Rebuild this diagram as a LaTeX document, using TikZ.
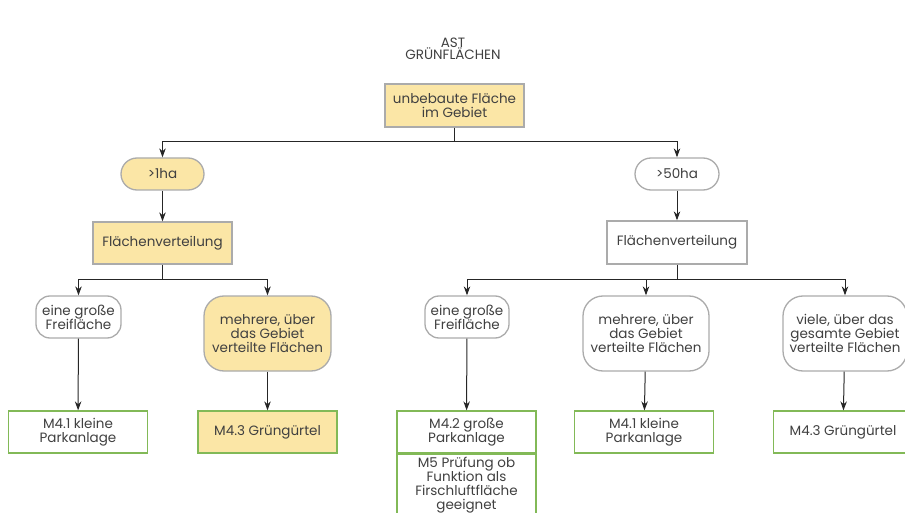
\documentclass[tikz,border=0pt]{standalone}
\usepackage{fontspec}
\setmainfont{Poppins}
\usetikzlibrary{arrows.meta}
\definecolor{gelb}{HTML}{FBE6A6}
\definecolor{rand}{HTML}{ABABAB}
\definecolor{gruen}{HTML}{82B957}
\definecolor{schrift}{HTML}{404040}
\tikzset{
  box/.style={draw=rand, line width=1.3pt, align=center, inner sep=0pt, text=schrift, font=\fontsize{13.5}{14}\selectfont},
  frage/.style={box, rounded corners=14pt, minimum height=32pt},
  kapsel/.style={box, rounded corners=16pt, minimum height=32pt},
  wahl/.style={box, rounded corners=20pt},
  mass/.style={box, draw=gruen, minimum width=139pt, minimum height=42pt},
  pfeil/.style={-{Stealth[length=9pt,width=6.5pt]}, line width=1pt, black!85},
  linie/.style={line width=1pt, black!85}
}
\begin{document}
\begin{tikzpicture}[x=1pt,y=-1pt]
\useasboundingbox (0,0) rectangle (905,513);
% titel
\node[text=schrift, align=center, font=\fontsize{13.5}{12.5}\selectfont] (titel) at (453,49) {AST\\GRÜNFLÄCHEN};

% oberste ebene
\node[box, fill=gelb, minimum width=139pt, minimum height=43pt] (flaeche) at (454.5,105.5) {unbebaute Fläche\\im Gebiet};
\coordinate (gabel) at (454.5,142);

% linker ast
\node[kapsel, fill=gelb, minimum width=83pt] (klein) at (162.5,174) {>1ha};
\node[box, fill=gelb, minimum width=139pt, minimum height=42pt] (verteilungL) at (162.5,243) {Flächenverteilung};
\coordinate (gabelL) at (162.5,279);
\node[frage, minimum width=85pt, minimum height=42pt] (eineL) at (78.5,317) {eine große\\Freifläche};
\node[wahl, fill=gelb, minimum width=127pt, minimum height=75pt] (mehrereL) at (267.5,333.5) {mehrere, über\\das Gebiet\\verteilte Flächen};
\node[mass] (m41L) at (78,432) {M4.1 kleine\\Parkanlage};
\node[mass, fill=gelb] (m43L) at (267.5,432) {M4.3 Grüngürtel};

% rechter ast
\node[kapsel, minimum width=84pt] (gross) at (677,174) {>50ha};
\node[box, minimum width=140pt, minimum height=43pt] (verteilungR) at (677,242.5) {Flächenverteilung};
\coordinate (gabelR) at (677,279);
\node[frage, minimum width=84pt, minimum height=42pt] (eineR) at (467,317) {eine große\\Freifläche};
\node[wahl, minimum width=126pt, minimum height=75pt] (mehrereR) at (646,333.5) {mehrere, über\\das Gebiet\\verteilte Flächen};
\node[wahl, minimum width=124pt, minimum height=75pt] (vieleR) at (845,333.5) {viele, über das\\gesamte Gebiet\\verteilte Flächen};
\node[mass] (m42) at (466.5,432) {M4.2 große\\Parkanlage};
\node[mass, minimum height=61pt, anchor=north] (m5) at (m42.south) {M5 Prüfung ob\\Funktion als\\Firschluftfläche\\geeignet};
\node[mass] (m41R) at (644,432) {M4.1 kleine\\Parkanlage};
\node[mass] (m43R) at (843,432) {M4.3 Grüngürtel};

% verbindungen
\draw[linie] (flaeche) -- (gabel);
\draw[pfeil] (gabel) -| (klein);
\draw[pfeil] (gabel) -| (gross);
\draw[pfeil] (klein) -- (verteilungL);
\draw[pfeil] (gross) -- (verteilungR);
\draw[linie] (verteilungL) -- (gabelL);
\draw[pfeil] (gabelL) -| (eineL);
\draw[pfeil] (gabelL) -| (mehrereL);
\draw[linie] (verteilungR) -- (gabelR);
\draw[pfeil] (gabelR) -| (eineR);
\draw[pfeil] (gabelR) -| (mehrereR.north);
\draw[pfeil] (gabelR) -| (vieleR);
\draw[pfeil] (eineL) -- (m41L);
\draw[pfeil] (mehrereL) -- (m43L);
\draw[pfeil] (eineR) -- (m42);
\draw[pfeil] (mehrereR) -- (m41R);
\draw[pfeil] (vieleR) -- (m43R);
\end{tikzpicture}
\end{document}
